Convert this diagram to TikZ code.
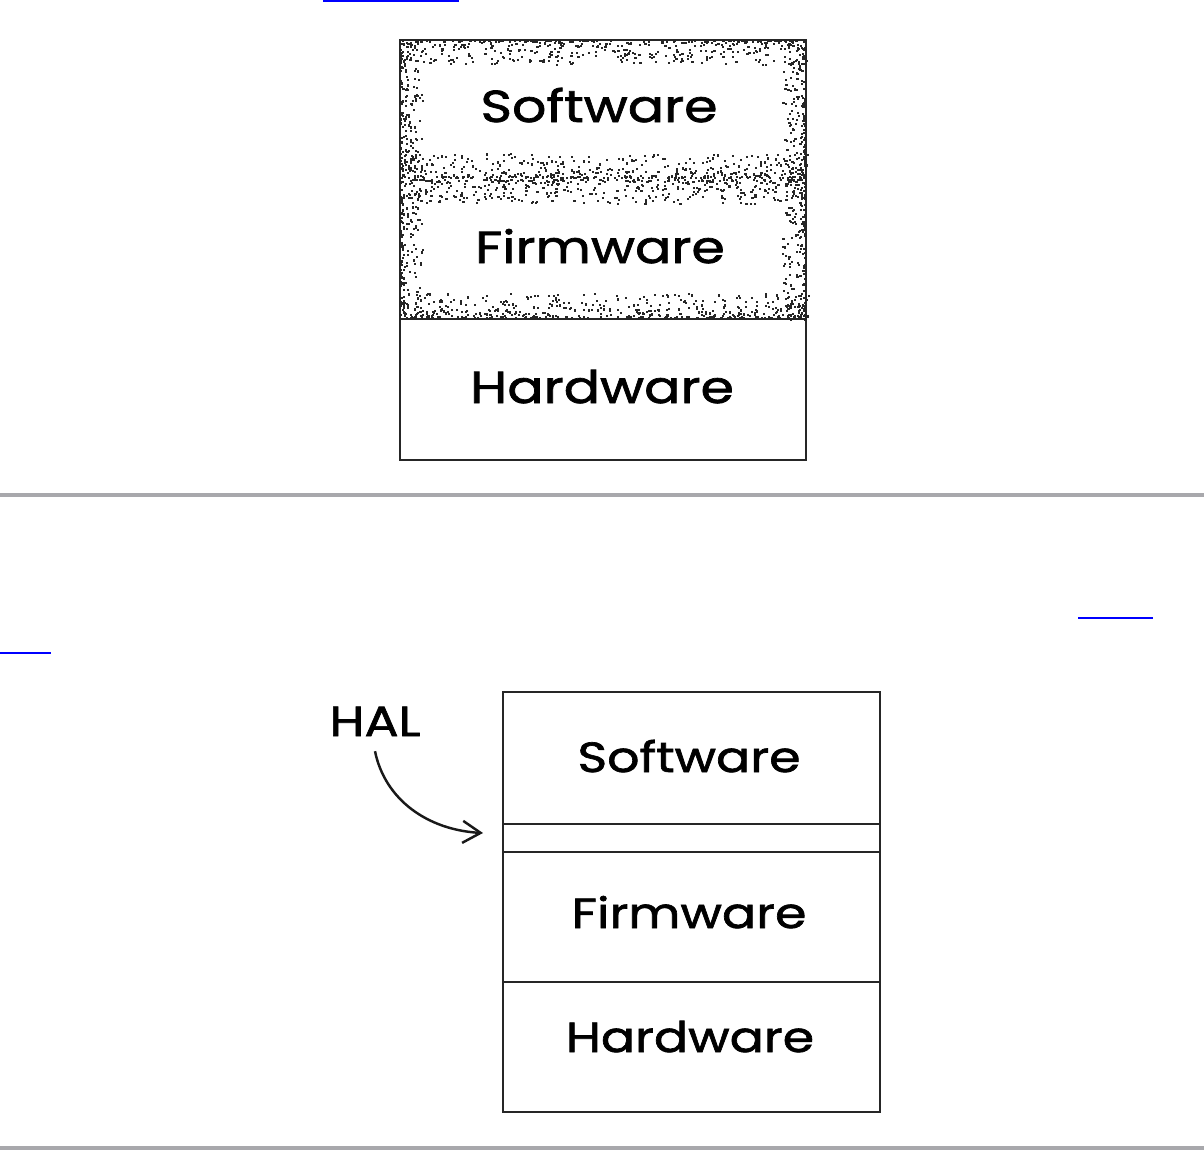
\documentclass[tikz,border=0pt]{standalone}
\usepackage{fontspec}
\newfontfamily\handfont[FakeStretch=1.2,FakeBold=1.6]{Poppins}
\usetikzlibrary{arrows.meta}
\colorlet{colorBox}{black!85}
\colorlet{colorDot}{black!85}
\definecolor{colorRule}{RGB}{168,168,172}
\definecolor{colorLink}{RGB}{0,0,255}
\tikzset{
   every path/.style={>={Straight Barb[length=3.6mm,width=4.4mm]}},
   cell/.style={draw=colorBox,line width=1.5pt},
   lbl/.style={font=\handfont\fontsize{24}{28}\selectfont,anchor=base},
   lblbig/.style={font=\handfont\fontsize{25.5}{30}\selectfont,anchor=base},
   rule/.style={draw=colorRule,line width=2.7pt},
   link/.style={draw=colorLink,line width=1.2pt},
   hal/.style={->,line width=1.4pt,color=black!90},
}
% speckled fringe inside a cell: x0 y0 x1 y1
\newcommand{\speckle}[4]{
  \foreach \i in {1,...,420} {
    \pgfmathsetmacro\px{#1+(#3-#1)*rnd}
    \pgfmathsetmacro\r{rnd}
    \fill[colorDot] (\px,{#2+24*\r*\r}) rectangle ++(2.2,2);
    \pgfmathsetmacro\r{rnd}
    \fill[colorDot] (\px+rnd*3,{#4-2-24*\r*\r}) rectangle ++(2,2.2);
  }
  \foreach \i in {1,...,160} {
    \pgfmathsetmacro\py{#2+(#4-#2)*rnd}
    \pgfmathsetmacro\r{rnd}
    \fill[colorDot] ({#1+22*\r*\r},\py) rectangle ++(2,2.2);
    \pgfmathsetmacro\r{rnd}
    \fill[colorDot] ({#3-2-22*\r*\r},\py+rnd*3) rectangle ++(2.2,2);
  }
}

\begin{document}
\begin{tikzpicture}[x=0.02cm,y=-0.02cm]
        \useasboundingbox (0,0) rectangle (1204,1150);
        \pgfmathsetseed{4711}

        % links and rules of the page
        \draw[link] (323,1) -- (459,1);
        \draw[link] (1078,618) -- (1153,618);
        \draw[link] (0,653) -- (51,653);
        \draw[rule] (0,495) -- (1204,495);
        \draw[rule] (0,1148) -- (1204,1148);

        % upper stack
        \speckle{400}{40}{806}{179}
        \speckle{400}{179}{806}{319}
        \draw[cell] (400,40) rectangle (806,460);
        \draw[cell] (400,319) -- (806,319);

        \node[lblbig] (sw1) at (599,122) {Software};
        \node[lblbig] (fw1) at (600,263) {Firmware};
        \node[lblbig] (hw1) at (602,403) {Hardware};

        % lower stack with HAL
        \draw[cell] (503,692) rectangle (880,1112);
        \draw[cell] (503,824) -- (880,824);
        \draw[cell] (503,852) -- (880,852);
        \draw[cell] (503,982) -- (880,982);

        \node[lbl] (sw2) at (689,772) {Software};
        \node[lbl] (fw2) at (689,928) {Firmware};
        \node[lbl] (hw2) at (690,1052) {Hardware};

        \node[lbl] (hal) at (375,736) {HAL};
        \coordinate (gap) at (483,833);
        \draw[hal] (hal.south) ++(0,9) .. controls (385,800) and (428,830) .. (gap);
      \end{tikzpicture}
\end{document}
